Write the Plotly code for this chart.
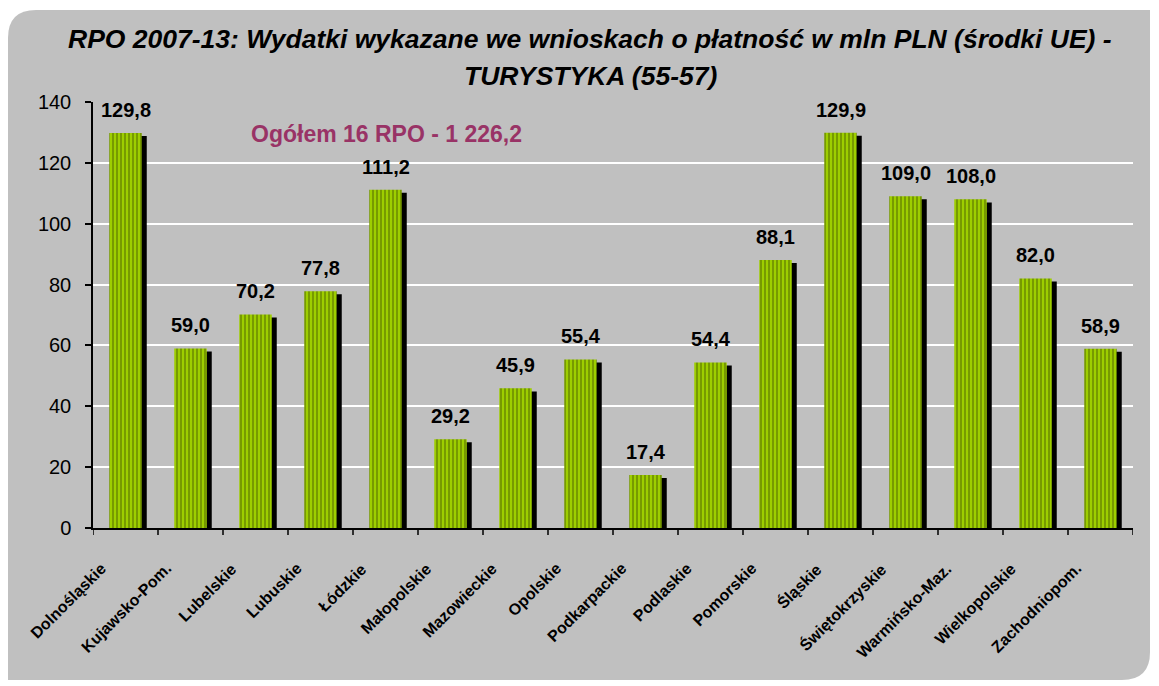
import plotly.graph_objects as go

categories = ["Dolnośląskie", "Kujawsko-Pom.", "Lubelskie", "Lubuskie", "Łódzkie",
              "Małopolskie", "Mazowieckie", "Opolskie", "Podkarpackie", "Podlaskie",
              "Pomorskie", "Śląskie", "Świętokrzyskie", "Warmińsko-Maz.",
              "Wielkopolskie", "Zachodniopom."]
values = [129.8, 59.0, 70.2, 77.8, 111.2, 29.2, 45.9, 55.4, 17.4, 54.4,
          88.1, 129.9, 109.0, 108.0, 82.0, 58.9]
y_ticks = [0, 20, 40, 60, 80, 100, 120, 140]
title_lines = ["RPO 2007-13: Wydatki wykazane we wnioskach o płatność w mln PLN (środki UE) -",
               "TURYSTYKA (55-57)"]
total_note = "Ogółem 16 RPO - 1 226,2"

OFF = 8  # body margin of the html page
W, H = 1159 - OFF, 686 - OFF
ML, MT = 93 - OFF, 102 - OFF
PR, PB = 1133 - OFF, 528 - OFF
MR, MB = W - PR, H - PB
PW, PH = PR - ML, PB - MT


def px(x):
    return (x - OFF - ML) / PW


def py(y):
    return (PB - (y - OFF)) / PH


FONT = "Liberation Sans, Arial, sans-serif"
labels = [f"{v:.1f}".replace(".", ",") for v in values]
xs = list(range(len(categories)))
cat_px = PW / len(categories)

fig = go.Figure()
# shadow bars
fig.add_trace(go.Bar(
    x=xs, y=[v - 1.0 for v in values], width=0.5, offset=-0.25 + 5 / cat_px,
    marker=dict(color="#000000", line=dict(width=0)), hoverinfo="skip", showlegend=False))
# main bars
fig.add_trace(go.Bar(
    x=xs, y=values, width=0.5, offset=-0.25,
    marker=dict(color="#779a00", line=dict(width=0),
                pattern=dict(shape="|", fgcolor="#a2d400", size=4, solidity=0.45,
                             fillmode="replace", bgcolor="#779a00")),
    showlegend=False))

for x, v, t in zip(xs, values, labels):
    fig.add_annotation(x=x, y=v, text=f"<b>{t}</b>", showarrow=False,
                       yanchor="bottom", yshift=10,
                       font=dict(family=FONT, size=20, color="#000000"))

# rotated category labels
for x, c in zip(xs, categories):
    fig.add_annotation(x=x, xref="x", xshift=-13, yref="paper", y=-29 / PH,
                       text=f"<b>{c}</b>", textangle=-45, showarrow=False,
                       xanchor="right", yanchor="top",
                       font=dict(family=FONT, size=16, color="#000000"))

fig.add_annotation(xref="paper", yref="paper", x=px(386), y=py(134),
                   text=f"<b>{total_note}</b>", showarrow=False,
                   xanchor="center", yanchor="middle",
                   font=dict(family=FONT, size=23, color="#993366"))

fig.add_annotation(xref="paper", yref="paper", x=px(590), y=py(39),
                   text=f"<b><i>{title_lines[0]}</i></b>", showarrow=False,
                   xanchor="center", yanchor="middle",
                   font=dict(family=FONT, size=26.5, color="#000000"))
fig.add_annotation(xref="paper", yref="paper", x=px(590), y=py(76),
                   text=f"<b><i>{title_lines[1]}</i></b>", showarrow=False,
                   xanchor="center", yanchor="middle",
                   font=dict(family=FONT, size=26.5, color="#000000"))

# rounded grey background
x0, x1, y0, y1, r = 8, 1150, 10, 680, 28
path = (f"M {px(x0 + r)},{py(y0)} L {px(x1)},{py(y0)} L {px(x1)},{py(y1 - r)} "
        f"Q {px(x1)},{py(y1)} {px(x1 - r)},{py(y1)} L {px(x0)},{py(y1)} "
        f"L {px(x0)},{py(y0 + r)} Q {px(x0)},{py(y0)} {px(x0 + r)},{py(y0)} Z")
fig.add_shape(type="path", path=path, xref="paper", yref="paper",
              fillcolor="#c0c0c0", line=dict(width=0), layer="below")

fig.update_layout(
    width=W, height=H,
    margin=dict(l=ML, r=MR, t=MT, b=MB, pad=0),
    paper_bgcolor="#ffffff", plot_bgcolor="rgba(0,0,0,0)",
    barmode="overlay",
    font=dict(family=FONT, color="#000000"),
    xaxis=dict(tickmode="array", tickvals=xs, showticklabels=False,
               range=[-0.5, len(categories) - 0.5],
               showgrid=False, showline=True, linecolor="#000000", linewidth=1.5,
               ticks="", zeroline=False),
    yaxis=dict(range=[0, 140], tickvals=y_ticks, showgrid=True, gridcolor="#ffffff",
               gridwidth=2, showline=True, linecolor="#000000", linewidth=1.5,
               ticks="outside", ticklen=6, tickcolor="#000000", tickwidth=1.5,
               ticklabelstandoff=10,
               tickfont=dict(family=FONT, size=20, color="#000000"), zeroline=False),
)

# category boundary ticks on x axis
for b in range(len(categories) + 1):
    fig.add_shape(type="line", xref="x", yref="paper",
                  x0=b - 0.5, x1=b - 0.5, y0=0, y1=-7 / PH,
                  line=dict(color="#000000", width=1.5))

fig.write_html("out.html")
